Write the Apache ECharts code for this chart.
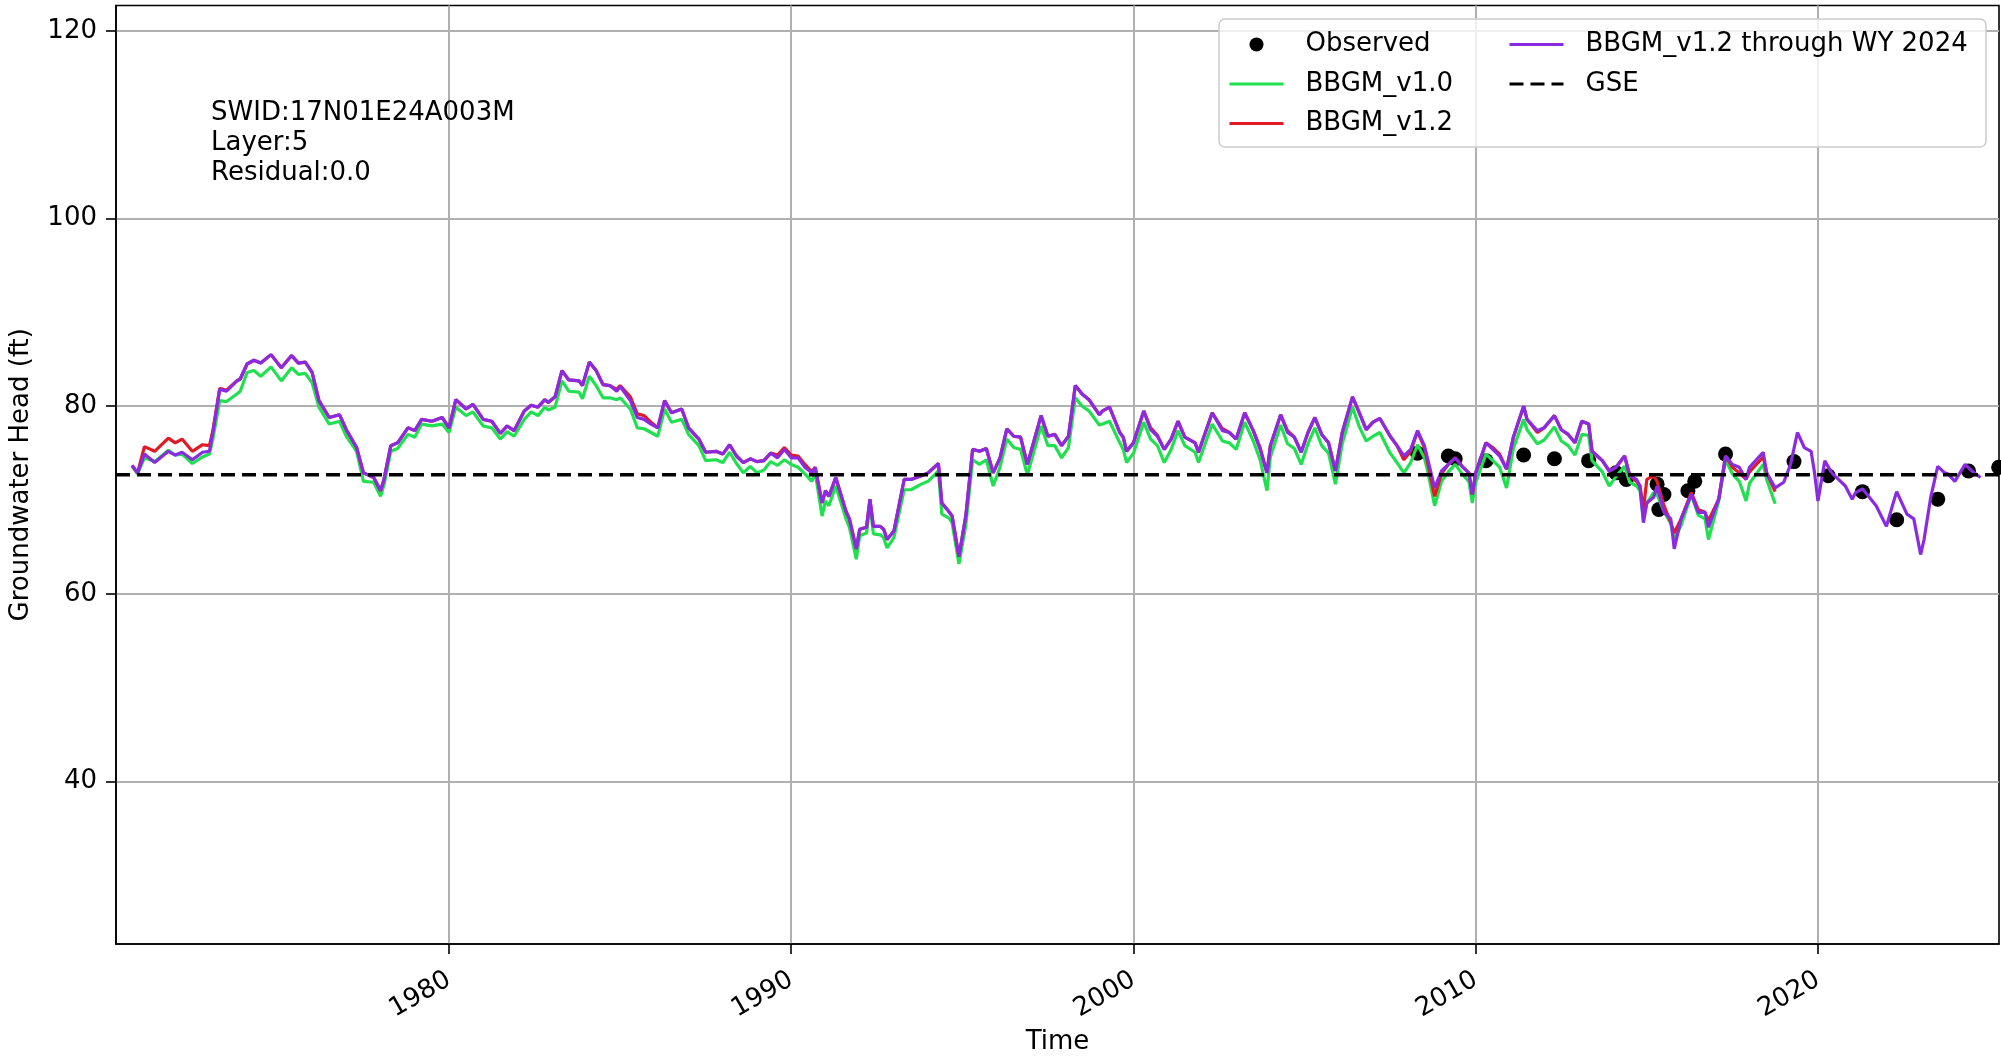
<!DOCTYPE html>
<html>
<head>
<meta charset="utf-8">
<title>17N01E24A003M groundwater head</title>
<script src="https://cdn.jsdelivr.net/npm/echarts@6.0.0/dist/echarts.min.js"></script>
<style>
  html, body { margin: 0; padding: 0; background: #fff; }
  #chart { width: 2001px; height: 1058px; }
</style>
</head>
<body>
<div id="chart"></div>
<script>
// decimal years of the simulated heads
const modelYears = [
  1970.74, 1970.90, 1971.10, 1971.40, 1971.80, 1972.00, 1972.20, 1972.50, 1972.80, 1973.00,
  1973.10, 1973.30, 1973.50, 1973.80, 1973.90, 1974.10, 1974.30, 1974.50, 1974.80, 1975.10,
  1975.40, 1975.60, 1975.80, 1976.00, 1976.20, 1976.50, 1976.80, 1977.00, 1977.30, 1977.50,
  1977.80, 1978.00, 1978.10, 1978.30, 1978.50, 1978.80, 1979.00, 1979.20, 1979.50, 1979.80,
  1980.00, 1980.20, 1980.50, 1980.70, 1981.00, 1981.25, 1981.50, 1981.70, 1981.90, 1982.20,
  1982.40, 1982.60, 1982.80, 1982.90, 1983.10, 1983.30, 1983.50, 1983.80, 1983.90, 1984.10,
  1984.30, 1984.50, 1984.70, 1984.90, 1985.00, 1985.30, 1985.50, 1985.70, 1985.90, 1986.10,
  1986.30, 1986.50, 1986.80, 1987.00, 1987.30, 1987.50, 1987.80, 1988.00, 1988.20, 1988.40,
  1988.60, 1988.80, 1989.00, 1989.20, 1989.40, 1989.60, 1989.80, 1990.00, 1990.20, 1990.40,
  1990.60, 1990.70, 1990.90, 1991.00, 1991.10, 1991.30, 1991.60, 1991.70, 1991.90, 1992.00,
  1992.20, 1992.30, 1992.40, 1992.60, 1992.70, 1992.80, 1993.00, 1993.30, 1993.50, 1993.80,
  1994.00, 1994.30, 1994.40, 1994.60, 1994.70, 1994.90, 1995.10, 1995.30, 1995.50, 1995.70,
  1995.90, 1996.10, 1996.30, 1996.50, 1996.70, 1996.90, 1997.30, 1997.50, 1997.70, 1997.90,
  1998.10, 1998.30, 1998.50, 1998.70, 1999.00, 1999.10, 1999.30, 1999.60, 1999.70, 1999.80,
  2000.00, 2000.30, 2000.50, 2000.70, 2000.90, 2001.10, 2001.30, 2001.50, 2001.80, 2001.90,
  2002.30, 2002.60, 2002.80, 2003.00, 2003.25, 2003.50, 2003.70, 2003.90, 2004.00, 2004.30,
  2004.50, 2004.70, 2004.90, 2005.10, 2005.30, 2005.50, 2005.70, 2005.90, 2006.10, 2006.40,
  2006.60, 2006.80, 2007.00, 2007.20, 2007.50, 2007.70, 2007.90, 2008.10, 2008.30, 2008.50,
  2008.60, 2008.80, 2009.00, 2009.20, 2009.40, 2009.60, 2009.80, 2009.90, 2010.00, 2010.30,
  2010.50, 2010.70, 2010.90, 2011.10, 2011.40, 2011.50, 2011.80, 2012.00, 2012.30, 2012.50,
  2012.70, 2012.90, 2013.10, 2013.30, 2013.40, 2013.70, 2013.90, 2014.10, 2014.35, 2014.50,
  2014.70, 2014.80, 2014.90, 2015.00, 2015.20, 2015.30, 2015.50, 2015.70, 2015.80, 2016.00,
  2016.30, 2016.50, 2016.70, 2016.80, 2017.10, 2017.30, 2017.50, 2017.70, 2017.90, 2018.00,
  2018.40, 2018.50, 2018.75, 2019.00, 2019.20, 2019.40, 2019.60, 2019.80, 2019.90, 2020.00,
  2020.20, 2020.40, 2020.60, 2020.80, 2021.00, 2021.10, 2021.30, 2021.50, 2021.70, 2022.00,
  2022.20, 2022.30, 2022.60, 2022.80, 2023.00, 2023.10, 2023.30, 2023.50, 2023.70, 2023.80,
  2024.00, 2024.10, 2024.30, 2024.50, 2024.60, 2024.75
];

// BBGM_v1.2 through WY 2024 (full length)
const headV12WY24 = [
  73.7, 72.9, 74.9, 74.0, 75.2, 74.8, 75.1, 74.3, 75.1, 75.2,
  77.2, 81.8, 81.6, 82.7, 82.9, 84.5, 84.9, 84.6, 85.5, 84.1,
  85.4, 84.6, 84.7, 83.6, 80.6, 78.8, 79.1, 77.5, 75.6, 72.9,
  72.4, 71.0, 72.2, 75.8, 76.1, 77.7, 77.4, 78.6, 78.4, 78.8,
  77.7, 80.7, 79.7, 80.2, 78.6, 78.4, 77.1, 77.9, 77.4, 79.5,
  80.1, 79.9, 80.7, 80.4, 81.0, 83.8, 82.8, 82.7, 82.2, 84.7,
  83.8, 82.3, 82.2, 81.6, 82.1, 80.6, 78.8, 78.6, 78.1, 77.7,
  80.6, 79.3, 79.7, 77.7, 76.5, 75.1, 75.2, 74.9, 75.9, 74.7,
  74.0, 74.4, 74.1, 74.2, 75.0, 74.5, 75.4, 74.5, 74.5, 73.5,
  72.9, 73.5, 69.7, 71.0, 70.4, 72.4, 68.8, 68.0, 64.8, 66.9,
  67.1, 70.1, 67.2, 67.2, 66.9, 65.8, 66.7, 72.2, 72.2, 72.6,
  72.9, 73.9, 69.7, 68.8, 68.3, 64.0, 68.3, 75.4, 75.2, 75.5,
  72.9, 74.5, 77.6, 76.8, 76.7, 73.8, 79.0, 76.8, 77.0, 75.8,
  76.8, 82.2, 81.3, 80.7, 79.1, 79.5, 79.9, 77.2, 76.7, 75.2,
  76.1, 79.5, 77.5, 76.8, 75.4, 76.5, 78.4, 76.7, 76.1, 75.1,
  79.3, 77.4, 77.2, 76.5, 79.3, 77.4, 75.4, 72.9, 75.8, 79.1,
  77.2, 76.7, 75.1, 77.2, 78.8, 77.0, 76.1, 73.1, 77.2, 81.0,
  79.3, 77.5, 78.3, 78.7, 76.8, 75.8, 74.7, 75.4, 77.4, 75.8,
  74.3, 71.3, 73.1, 73.8, 74.5, 73.6, 72.9, 70.6, 72.9, 76.1,
  75.4, 74.7, 73.3, 76.7, 80.0, 78.6, 77.4, 77.7, 79.0, 77.5,
  77.0, 76.1, 78.4, 78.1, 75.2, 74.2, 73.1, 73.5, 74.7, 72.6,
  72.2, 71.5, 67.6, 69.7, 70.3, 71.5, 68.7, 68.0, 64.8, 68.0,
  70.6, 68.7, 68.7, 67.1, 70.1, 74.7, 73.8, 73.5, 72.2, 73.5,
  75.1, 72.9, 71.3, 71.9, 73.8, 77.2, 75.6, 75.2, 72.9, 69.9,
  74.2, 72.9, 72.2, 71.5, 70.1, 70.8, 71.2, 70.3, 69.4, 67.2,
  69.7, 70.9, 68.5, 68.0, 64.2, 65.8, 70.4, 73.6, 72.9, 72.8,
  72.0, 72.6, 73.8, 73.1, 72.8, 72.4
];

// BBGM_v1.2 (ends 2018.75)
const headV12 = [
  73.7, 72.9, 75.7, 75.2, 76.6, 76.1, 76.5, 75.2, 75.9, 75.8,
  77.4, 81.9, 81.7, 82.7, 82.9, 84.5, 84.9, 84.6, 85.5, 84.1,
  85.4, 84.6, 84.7, 83.6, 80.6, 78.8, 79.1, 77.5, 75.6, 72.9,
  72.4, 71.0, 72.2, 75.8, 76.1, 77.7, 77.4, 78.6, 78.4, 78.8,
  77.7, 80.7, 79.7, 80.2, 78.6, 78.4, 77.1, 77.9, 77.4, 79.5,
  80.1, 79.9, 80.7, 80.4, 81.0, 83.8, 82.8, 82.7, 82.2, 84.7,
  83.8, 82.3, 82.2, 81.8, 82.2, 81.0, 79.2, 79.0, 78.3, 77.7,
  80.6, 79.3, 79.7, 77.7, 76.5, 75.1, 75.2, 74.9, 75.9, 74.7,
  74.0, 74.4, 74.1, 74.2, 75.0, 74.8, 75.6, 74.8, 74.7, 73.8,
  73.0, 73.5, 69.7, 71.0, 70.4, 72.4, 68.8, 68.0, 64.8, 66.9,
  67.1, 70.1, 67.2, 67.2, 66.9, 65.8, 66.7, 72.2, 72.2, 72.6,
  72.9, 73.9, 69.7, 68.8, 68.3, 64.0, 68.3, 75.4, 75.2, 75.5,
  72.9, 74.5, 77.6, 76.8, 76.7, 73.8, 79.0, 76.8, 77.0, 75.8,
  76.8, 82.2, 81.3, 80.7, 79.1, 79.5, 79.9, 77.2, 76.7, 75.2,
  76.1, 79.5, 77.7, 76.9, 75.4, 76.5, 78.4, 76.7, 76.1, 75.1,
  79.3, 77.6, 77.2, 76.5, 79.3, 77.4, 75.6, 72.9, 75.8, 79.1,
  77.4, 76.7, 75.1, 77.2, 78.8, 77.0, 76.1, 73.1, 77.2, 81.0,
  79.3, 77.5, 78.3, 78.7, 76.8, 75.8, 74.3, 75.2, 77.3, 75.6,
  73.9, 70.4, 72.8, 73.8, 74.5, 73.6, 72.9, 70.6, 72.9, 76.1,
  75.6, 74.9, 73.3, 76.7, 80.0, 78.6, 77.2, 77.7, 79.0, 77.5,
  77.0, 76.1, 78.4, 78.1, 75.2, 74.2, 73.1, 73.5, 74.7, 72.6,
  72.0, 71.5, 69.0, 72.2, 72.6, 72.0, 69.4, 67.6, 66.5, 68.0,
  70.8, 69.0, 68.7, 67.8, 70.1, 74.7, 73.5, 72.9, 72.2, 73.0,
  74.6, 72.9, 70.9
];

// BBGM_v1.0 (ends 2018.75)
const headV10 = [
  73.6, 72.8, 74.5, 74.1, 75.3, 74.8, 74.9, 73.9, 74.6, 74.9,
  76.5, 80.6, 80.5, 81.3, 81.6, 83.6, 83.8, 83.2, 84.2, 82.7,
  84.1, 83.4, 83.5, 82.5, 79.9, 78.1, 78.4, 76.8, 75.2, 72.0,
  71.9, 70.4, 71.6, 75.2, 75.5, 77.0, 76.7, 78.1, 77.9, 78.1,
  77.2, 79.9, 79.0, 79.4, 77.9, 77.7, 76.5, 77.3, 76.8, 78.6,
  79.4, 79.0, 79.9, 79.6, 79.9, 82.7, 81.6, 81.5, 80.8, 83.2,
  82.2, 80.9, 80.9, 80.7, 80.9, 79.7, 77.7, 77.6, 77.2, 76.8,
  79.7, 78.3, 78.6, 77.0, 75.8, 74.2, 74.3, 74.0, 75.1, 73.9,
  72.9, 73.6, 72.9, 73.2, 74.1, 73.7, 74.3, 73.8, 73.5, 72.8,
  72.0, 72.9, 68.3, 69.9, 69.4, 71.5, 68.0, 67.1, 63.7, 66.2,
  66.5, 69.4, 66.4, 66.3, 66.0, 64.9, 66.0, 71.1, 71.1, 71.7,
  72.0, 73.1, 68.5, 68.1, 67.6, 63.2, 67.3, 74.3, 73.8, 74.3,
  71.5, 73.5, 76.5, 75.6, 75.4, 72.7, 77.9, 75.8, 75.8, 74.5,
  75.6, 80.9, 80.0, 79.5, 78.0, 78.1, 78.4, 76.1, 75.4, 74.0,
  75.0, 78.3, 76.5, 75.8, 74.0, 75.4, 77.4, 75.8, 75.1, 74.0,
  78.1, 76.3, 76.1, 75.4, 78.3, 76.3, 74.3, 71.0, 74.6, 78.0,
  76.0, 75.5, 73.8, 76.0, 77.7, 75.8, 75.0, 71.7, 76.0, 79.9,
  77.8, 76.3, 76.8, 77.2, 75.0, 74.0, 72.9, 74.0, 75.9, 74.5,
  73.0, 69.4, 72.0, 73.0, 73.8, 72.8, 72.0, 69.7, 71.9, 74.9,
  74.2, 73.5, 71.3, 75.5, 78.6, 77.5, 76.0, 76.4, 77.8, 76.3,
  75.8, 74.8, 77.0, 76.9, 74.2, 73.0, 71.5, 72.5, 73.6, 71.9,
  71.5, 71.0, 68.0, 69.7, 70.8, 70.6, 68.8, 67.5, 65.8, 67.3,
  70.6, 68.4, 68.0, 65.8, 69.9, 74.3, 72.8, 72.0, 69.9, 71.8,
  73.8, 72.2, 69.6
];

// observed heads
const obsYears = [
  2008.30, 2009.20, 2009.40, 2010.30, 2011.40, 2012.30, 2013.30, 2014.10, 2014.40, 2015.30,
  2015.35, 2015.50, 2016.20, 2016.40, 2017.30, 2019.30, 2020.30, 2021.30, 2022.30, 2023.50,
  2024.40, 2025.28
];
const obsHead = [
  75.0, 74.7, 74.4, 74.2, 74.8, 74.4, 74.2, 72.9, 72.2, 71.7,
  69.0, 70.6, 71.0, 72.0, 74.9, 74.1, 72.6, 70.9, 67.9, 70.1,
  73.1, 73.5
];

const gse = 72.7;
const xTicks = [1980, 1990, 2000, 2010, 2020];
const yTicks = [40, 60, 80, 100, 120];
const xMin = 1970.27, xMax = 2025.29;
const yMin = 22.7, yMax = 122.7;

const FONT = 'DejaVu Sans';

function zip(xs, ys) {
  return ys.map((v, i) => [xs[i], v]);
}

const chart = echarts.init(document.getElementById('chart'), null, { renderer: 'canvas' });

const txt = { fontFamily: FONT, fontSize: 26, color: '#000' };
const legendText = Object.assign({}, txt, { lineHeight: 30, padding: [0, 0, 0, 17] });
// line entries: hide the marker dot that echarts puts on the legend line
const noDot = { opacity: 0 };

chart.setOption({
  animation: false,
  backgroundColor: '#fff',
  grid: {
    left: 116, right: 2, top: 5.5, bottom: 114,
    show: true, borderColor: '#000', borderWidth: 1.6,
    containLabel: false, outerBoundsMode: 'none'
  },
  xAxis: {
    type: 'value', min: xMin, max: xMax,
    name: 'Time', nameLocation: 'middle', nameGap: 85, nameMoveOverlap: false,
    nameTextStyle: txt,
    axisLine: { show: true, onZero: false, lineStyle: { color: '#000', width: 1.6 } },
    axisTick: { show: true, customValues: xTicks, length: 10, lineStyle: { color: '#000', width: 1.6 } },
    axisLabel: Object.assign({ customValues: xTicks, rotate: 30, margin: 34, formatter: v => String(v) }, txt),
    splitLine: { show: true, lineStyle: { color: '#b0b0b0', width: 2 } }
  },
  yAxis: {
    type: 'value', min: yMin, max: yMax,
    name: 'Groundwater Head (ft)', nameLocation: 'middle', nameGap: 82, nameRotate: 90, nameMoveOverlap: false,
    nameTextStyle: txt,
    axisLine: { show: true, onZero: false, lineStyle: { color: '#000', width: 1.6 } },
    axisTick: { show: true, customValues: yTicks, length: 10, lineStyle: { color: '#000', width: 1.6 } },
    axisLabel: Object.assign({ customValues: yTicks, margin: 19, formatter: v => String(v) }, txt),
    splitLine: { show: true, lineStyle: { color: '#b0b0b0', width: 2 } }
  },
  legend: [
    {
      data: [
        { name: 'Observed', itemStyle: { color: '#000', opacity: 1 } },
        { name: 'BBGM_v1.0', itemStyle: noDot },
        { name: 'BBGM_v1.2', itemStyle: noDot }
      ],
      orient: 'vertical', left: 1228, top: 29.5, padding: 0,
      itemWidth: 54, itemHeight: 14, itemGap: 9.5,
      textStyle: legendText, lineStyle: { width: 3 }, selectedMode: false
    },
    {
      data: [
        { name: 'BBGM_v1.2 through WY 2024', itemStyle: noDot },
        { name: 'GSE', itemStyle: noDot }
      ],
      orient: 'vertical', left: 1508, top: 29.5, padding: 0,
      itemWidth: 54, itemHeight: 14, itemGap: 9.5,
      textStyle: legendText, lineStyle: { width: 3 }, selectedMode: false
    }
  ],
  graphic: [
    {
      type: 'rect', z: 3, silent: true,
      shape: { x: 1219, y: 19, width: 767, height: 128, r: 6 },
      style: { fill: 'rgba(255,255,255,0.8)', stroke: '#cccccc', lineWidth: 1.5 }
    },
    {
      type: 'text', left: 211, top: 98, z: 5,
      style: {
        text: 'SWID:17N01E24A003M\nLayer:5\nResidual:0.0',
        fontFamily: FONT, fontSize: 26, lineHeight: 30, fill: '#000'
      }
    }
  ],
  series: [
    {
      name: 'Observed', type: 'scatter', data: zip(obsYears, obsHead),
      symbol: 'circle', symbolSize: 15, itemStyle: { color: '#000', opacity: 1 }, clip: false
    },
    {
      name: 'BBGM_v1.0', type: 'line', data: zip(modelYears, headV10),
      symbol: 'none', showSymbol: false, lineStyle: { color: '#20e050', width: 3.2 },
      itemStyle: { color: '#20e050' }
    },
    {
      name: 'BBGM_v1.2', type: 'line', data: zip(modelYears, headV12),
      symbol: 'none', showSymbol: false, lineStyle: { color: '#e01b24', width: 3.2 },
      itemStyle: { color: '#e01b24' }
    },
    {
      name: 'BBGM_v1.2 through WY 2024', type: 'line', data: zip(modelYears, headV12WY24),
      symbol: 'none', showSymbol: false, lineStyle: { color: '#8a2be2', width: 3.2 },
      itemStyle: { color: '#8a2be2' }
    },
    {
      name: 'GSE', type: 'line', data: [[xMin, gse], [xMax, gse]],
      symbol: 'none', showSymbol: false,
      lineStyle: { color: '#000', width: 3.5, type: [14, 7] },
      itemStyle: { color: '#000' }
    }
  ]
});
</script>
</body>
</html>
